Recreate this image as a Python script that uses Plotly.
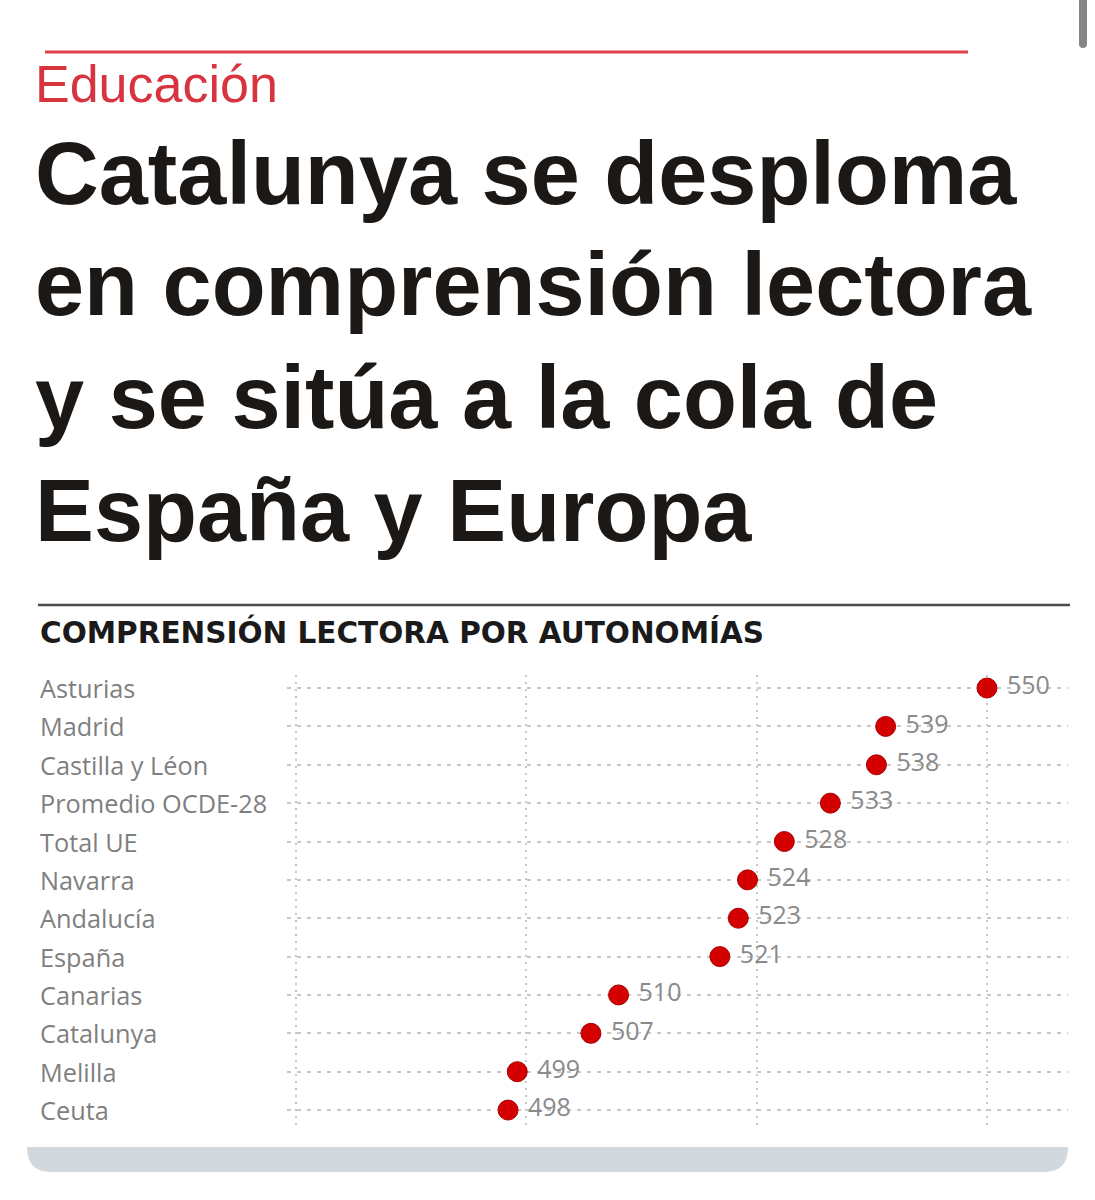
import plotly.graph_objects as go

# ---- data ----
regions = ["Asturias", "Madrid", "Castilla y Léon", "Promedio OCDE-28", "Total UE",
           "Navarra", "Andalucía", "España", "Canarias", "Catalunya", "Melilla", "Ceuta"]
scores = [550, 539, 538, 533, 528, 524, 523, 521, 510, 507, 499, 498]
x_ticks = [475, 500, 525, 550]

kicker = "Educación"
title_lines = ["Catalunya se desploma", "en comprensión lectora",
               "y se sitúa a la cola de", "España y Europa"]
subtitle = "COMPRENSIÓN LECTORA POR AUTONOMÍAS"

W, H = 1095, 1200
def px(x):
    return x / W
def py(y):
    return 1 - y / H

row_idx = list(range(len(regions)))

fig = go.Figure()
fig.add_trace(go.Scatter(
    x=scores, y=row_idx, mode="markers+text",
    text=["\u00a0" + str(s) for s in scores], textposition="middle right",
    textfont=dict(family="Open Sans", size=25, color="#8a8a8a"),
    marker=dict(size=20, color="#d40000", line=dict(color="#a80000", width=1)),
    cliponaxis=False, hoverinfo="skip", showlegend=False,
))

fig.update_layout(
    width=W, height=H, autosize=False,
    margin=dict(l=0, r=0, t=0, b=0),
    paper_bgcolor="white", plot_bgcolor="white",
    xaxis=dict(domain=[px(287), px(1068)], range=[474.0, 558.8],
               tickvals=x_ticks, showticklabels=False, showgrid=True,
               gridcolor="#c8c8c8", gridwidth=1.5, griddash="2px,5px",
               zeroline=False, showline=False, ticks=""),
    yaxis=dict(domain=[py(1125), py(675)], range=[11.39, -0.34],
               tickvals=row_idx, showticklabels=False, showgrid=True,
               gridcolor="#c8c8c8", gridwidth=1.5, griddash="4px,6px",
               zeroline=False, showline=False, ticks=""),
)

ann = []
ann.append(dict(text=kicker, x=px(33), y=py(84), xref="paper", yref="paper",
                xanchor="left", yanchor="middle", showarrow=False,
                font=dict(family="Liberation Sans", size=52, color="#d8343f")))
title_centers = [173, 284, 397, 510]
for line, yc in zip(title_lines, title_centers):
    ann.append(dict(text="<b>%s</b>" % line, x=px(33), y=py(yc), xref="paper", yref="paper",
                    xanchor="left", yanchor="middle", showarrow=False,
                    font=dict(family="Liberation Sans", size=88.3, color="#1c1815")))
ann.append(dict(text="<b>%s</b>" % subtitle, x=px(38), y=py(632), xref="paper", yref="paper",
                xanchor="left", yanchor="middle", showarrow=False,
                font=dict(family="DejaVu Sans", size=29.5, color="#1a1a1a")))
for i, r in enumerate(regions):
    ann.append(dict(text=r, x=px(38), y=i, xref="paper", yref="y",
                    xanchor="left", yanchor="middle", showarrow=False,
                    font=dict(family="Open Sans", size=25.3, color="#7f7f7f")))
fig.update_layout(annotations=ann)

shapes = []
# red top rule
shapes.append(dict(type="line", xref="paper", yref="paper", x0=px(45), x1=px(968),
                   y0=py(52), y1=py(52), line=dict(color="#e2404b", width=3)))
# dark rule above subtitle
shapes.append(dict(type="line", xref="paper", yref="paper", x0=px(38), x1=px(1070),
                   y0=py(605), y1=py(605), line=dict(color="#4a4a4a", width=2.5)))
# bottom grey bar with rounded bottom corners
x0, x1, yt, yb, r = 27, 1068, 1147, 1172, 24
path = (f"M {px(x0)},{py(yt)} L {px(x1)},{py(yt)} "
        f"Q {px(x1)},{py(yb)} {px(x1 - r)},{py(yb)} "
        f"L {px(x0 + r)},{py(yb)} Q {px(x0)},{py(yb)} {px(x0)},{py(yt)} Z")
shapes.append(dict(type="path", xref="paper", yref="paper", path=path,
                   fillcolor="#d1d9df", line=dict(width=0), layer="below"))
# scrollbar
sx0, sx1, sy0, sy1 = 1079, 1087, 0, 48
spath = (f"M {px(sx0)},{py(sy0)} L {px(sx1)},{py(sy0)} L {px(sx1)},{py(sy1 - 4)} "
         f"Q {px(sx1)},{py(sy1)} {px((sx0 + sx1) / 2)},{py(sy1)} "
         f"Q {px(sx0)},{py(sy1)} {px(sx0)},{py(sy1 - 4)} Z")
shapes.append(dict(type="path", xref="paper", yref="paper", path=spath,
                   fillcolor="#858585", line=dict(width=0)))
fig.update_layout(shapes=shapes)

fig.write_html("out.html")
